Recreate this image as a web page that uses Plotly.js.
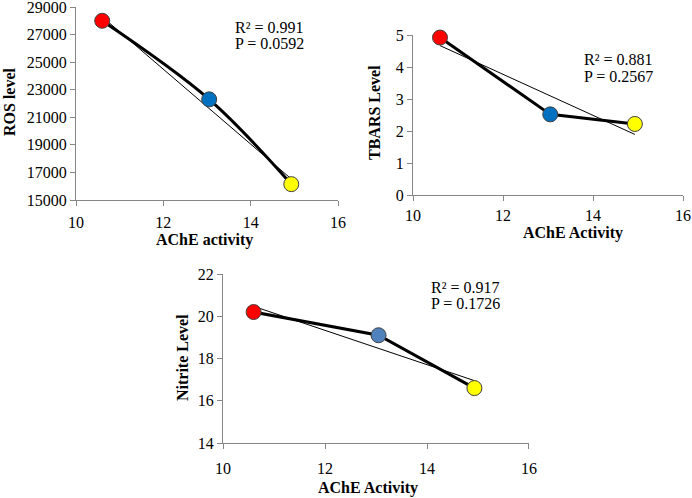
<!DOCTYPE html>
<html>
<head>
<meta charset="utf-8">
<script src="https://cdn.plot.ly/plotly-3.0.1.min.js"></script>
<style>html,body{margin:0;padding:0;background:#fff;}#chart{width:692px;height:498px;}</style>
</head>
<body>
<div id="chart"></div>
<script>
// ---- data ----
const acheActivity = [10.6, 13.05, 14.93];
const rosLevel = [28000, 22300, 16150];
const tbarsLevel = [4.92, 2.52, 2.22];
const nitriteLevel = [20.2, 19.1, 16.6];
const pointColors = ['#FF0000', '#0070C0', '#FFFF00'];
const pointColorsNitrite = ['#FF0000', '#4F81BD', '#FFFF00'];
const statsROS = ['R\u00B2 = 0.991', 'P = 0.0592'];
const statsTBARS = ['R\u00B2 = 0.881', 'P = 0.2567'];
const statsNitrite = ['R\u00B2 = 0.917', 'P = 0.1726'];
const xTicks = [10, 12, 14, 16];
const rosTicks = [15000, 17000, 19000, 21000, 23000, 25000, 27000, 29000];
const tbarsTicks = [0, 1, 2, 3, 4, 5];
const nitriteTicks = [14, 16, 18, 20, 22];

// least-squares trendline over the data
function trend(xs, ys) {
  const n = xs.length;
  const mx = xs.reduce((a, b) => a + b, 0) / n;
  const my = ys.reduce((a, b) => a + b, 0) / n;
  let sxy = 0, sxx = 0;
  for (let i = 0; i < n; i++) { sxy += (xs[i] - mx) * (ys[i] - my); sxx += (xs[i] - mx) ** 2; }
  const b = sxy / sxx, a = my - b * mx;
  const x0 = Math.min(...xs), x1 = Math.max(...xs);
  return { x: [x0, x1], y: [a + b * x0, a + b * x1] };
}

const FONT = 'Liberation Serif';
const W = 692, H = 498;
const px = v => v / W;
const py = v => 1 - v / H;

function trendTrace(ys, xa, ya) {
  const t = trend(acheActivity, ys);
  return { x: t.x, y: t.y, xaxis: xa, yaxis: ya, mode: 'lines', line: { color: '#000', width: 1 },
    hoverinfo: 'skip', showlegend: false, cliponaxis: false };
}
function dataTrace(ys, colors, xa, ya, shape) {
  return { x: acheActivity, y: ys, xaxis: xa, yaxis: ya, mode: 'lines+markers', cliponaxis: false,
    line: { color: '#000', width: 3, shape: shape, smoothing: 1 },
    marker: { size: 15, color: colors, line: { color: '#404040', width: 1 } }, showlegend: false };
}

const traces = [
  trendTrace(rosLevel, 'x', 'y'),
  dataTrace(rosLevel, pointColors, 'x', 'y', 'spline'),
  trendTrace(tbarsLevel, 'x2', 'y2'),
  dataTrace(tbarsLevel, pointColors, 'x2', 'y2', 'linear'),
  trendTrace(nitriteLevel, 'x3', 'y3'),
  dataTrace(nitriteLevel, pointColorsNitrite, 'x3', 'y3', 'linear')
];

function axis(extra) {
  return Object.assign({
    showgrid: false, zeroline: false, showline: true, linecolor: '#868686', linewidth: 1,
    ticks: 'outside', ticklen: 5, tickcolor: '#868686', tickwidth: 1, tickmode: 'array',
    tickformat: 'd', exponentformat: 'none', ticklabeloverflow: 'allow',
    tickfont: { family: FONT, size: 16, color: '#000' }, fixedrange: true
  }, extra);
}

function label(text, x, y, opts) {
  return Object.assign({ text: text, xref: 'paper', yref: 'paper', x: px(x), y: py(y),
    showarrow: false, font: { family: FONT, size: 16, color: '#000' }, xanchor: 'center', yanchor: 'middle' }, opts || {});
}
function bold(text, x, y, angle) {
  return label('<b>' + text + '</b>', x, y, { textangle: angle || 0 });
}
function stat(text, x, y) {
  return label(text, x, y, { xanchor: 'left' });
}

const layout = {
  width: W, height: H,
  font: { family: FONT, size: 16, color: '#000' },
  margin: { l: 0, r: 0, t: 0, b: 0 },
  paper_bgcolor: '#fff', plot_bgcolor: '#fff',
  showlegend: false,
  xaxis: axis({ domain: [px(76), px(338)], range: [10, 16.0001], tickvals: xTicks, anchor: 'y', ticklabelstandoff: 3 }),
  yaxis: axis({ domain: [py(200), py(7)], range: [15000, 29000.5], tickvals: rosTicks, anchor: 'x' }),
  xaxis2: axis({ domain: [px(413), px(683)], range: [10, 16.0001], tickvals: xTicks, anchor: 'y2', ticklabelstandoff: 1 }),
  yaxis2: axis({ domain: [py(195), py(35)], range: [0, 5.0001], tickvals: tbarsTicks, anchor: 'x2' }),
  xaxis3: axis({ domain: [px(223), px(529)], range: [10, 16.0001], tickvals: xTicks, anchor: 'y3', ticklabelstandoff: 6 }),
  yaxis3: axis({ domain: [py(443), py(274)], range: [14, 22.0001], tickvals: nitriteTicks, anchor: 'x3' }),
  annotations: [
    bold('AChE activity', 205, 240),
    bold('ROS level', 9, 102, -90),
    bold('AChE Activity', 573, 233),
    bold('TBARS Level', 375, 113, -90),
    bold('AChE Activity', 368, 488),
    bold('Nitrite Level', 182, 358, -90),
    stat(statsROS[0], 233, 27), stat(statsROS[1], 233, 44),
    stat(statsTBARS[0], 582, 60), stat(statsTBARS[1], 582, 76),
    stat(statsNitrite[0], 429, 287), stat(statsNitrite[1], 429, 303)
  ]
};

Plotly.newPlot('chart', traces, layout, { displayModeBar: false, staticPlot: true });
</script>
</body>
</html>
